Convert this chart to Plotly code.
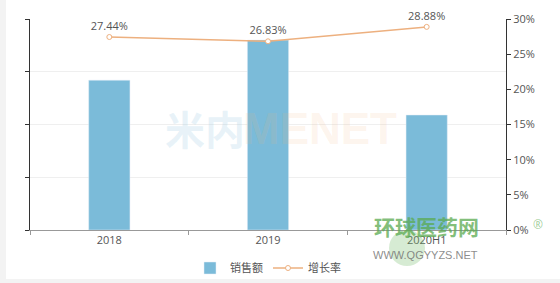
import plotly.graph_objects as go

categories = ["2018", "2019", "2020H1"]
sales = [28.4, 36.0, 21.8]          # left axis values (labels hidden)
growth = [0.2744, 0.2683, 0.2888]   # growth rate
growth_labels = ["27.44%", "26.83%", "28.88%"]
right_ticks = [0, 0.05, 0.10, 0.15, 0.20, 0.25, 0.30]
right_tick_text = ["0%", "5%", "10%", "15%", "20%", "25%", "30%"]

BAR = "#7BBBD9"
LINE = "#EDB07F"
TXT = "#555555"

fig = go.Figure()
fig.add_trace(go.Bar(
    x=categories, y=sales, name="销售额", marker_color=BAR, width=0.26,
    yaxis="y",
))
fig.add_trace(go.Scatter(
    x=categories, y=growth, name="增长率", yaxis="y2", mode="lines+markers+text",
    line=dict(color=LINE, width=1.5), cliponaxis=False,
    marker=dict(symbol="circle", size=5, color="white", line=dict(color=LINE, width=1)),
    text=growth_labels, textposition="top center",
    textfont=dict(color=TXT, size=11),
))

fig.update_layout(
    width=560, height=283,
    margin=dict(l=30, r=54, t=19, b=53, autoexpand=False),
    paper_bgcolor="#f3f3f3", plot_bgcolor="white",
    font=dict(family="Open Sans, DejaVu Sans, sans-serif", size=11, color=TXT),
    showlegend=True,
    legend=dict(orientation="h", x=0.5, xanchor="center", y=-(268-230)/211, yanchor="middle",
                font=dict(size=11, color=TXT, family="Noto Sans CJK SC"),
                bgcolor="rgba(0,0,0,0)", itemwidth=30),
    bargap=0.74,
    xaxis=dict(
        type="category", showgrid=False, showline=True, linecolor="#999999", linewidth=1,
        ticks="outside", ticklen=4, tickcolor="#999999", tickson="boundaries",
        tickfont=dict(size=11, color=TXT), zeroline=False,
    ),
    yaxis=dict(
        range=[0, 40], dtick=10, showticklabels=False, showline=True, linecolor="#333333",
        linewidth=1, ticks="outside", ticklen=4, tickcolor="#333333",
        showgrid=True, gridcolor="#efefef", zeroline=False,
    ),
    yaxis2=dict(
        overlaying="y", side="right", range=[0, 0.30], tickvals=right_ticks,
        ticktext=right_tick_text, showline=True, linecolor="#333333", linewidth=1,
        ticks="outside", ticklen=4, tickcolor="#333333", showgrid=False, zeroline=False,
        tickfont=dict(size=11, color=TXT),
    ),
    shapes=[
        dict(type="rect", xref="paper", yref="paper", layer="below",
             x0=(6-30)/476, x1=1 + 60/476, y0=(230-279)/211, y1=1 + 25/211,
             fillcolor="white", line=dict(width=0)),
        dict(type="circle", xref="paper", yref="paper", layer="above",
             x0=(389-30)/476, x1=(425-30)/476, y0=(230-266)/211, y1=(230-230)/211,
             fillcolor="rgba(120,190,110,0.3)", line=dict(width=0)),
    ],
    annotations=[
        dict(text="<b>米内</b>", xref="paper", yref="paper", x=(205-30)/476, y=(230-128)/211,
             showarrow=False, font=dict(size=40, color="rgba(150,200,225,0.22)",
                                        family="Noto Sans CJK SC")),
        dict(text="<b>MENET</b>", xref="paper", yref="paper", x=(320-30)/476, y=(230-128)/211,
             showarrow=False, font=dict(size=44, color="rgba(245,180,120,0.15)",
                                        family="Liberation Sans")),
        dict(text="<b>环球医药网</b>", xref="paper", yref="paper", x=(481-30)/476, y=(230-243)/211,
             showarrow=False, font=dict(size=21, color="rgba(90,170,80,0.75)",
                                        family="Noto Sans CJK SC")),
        dict(text="WWW.QGYYZS.NET", xref="paper", yref="paper", x=(480-30)/476, y=(230-263)/211,
             showarrow=False, font=dict(size=11, color="rgba(110,110,110,0.8)",
                                        family="Liberation Sans")),
        dict(text="®", xref="paper", yref="paper", x=(545-30)/476, y=(230-235)/211,
             showarrow=False, font=dict(size=12, color="rgba(90,170,80,0.6)")),
    ],
)

fig.write_html("out.html")
